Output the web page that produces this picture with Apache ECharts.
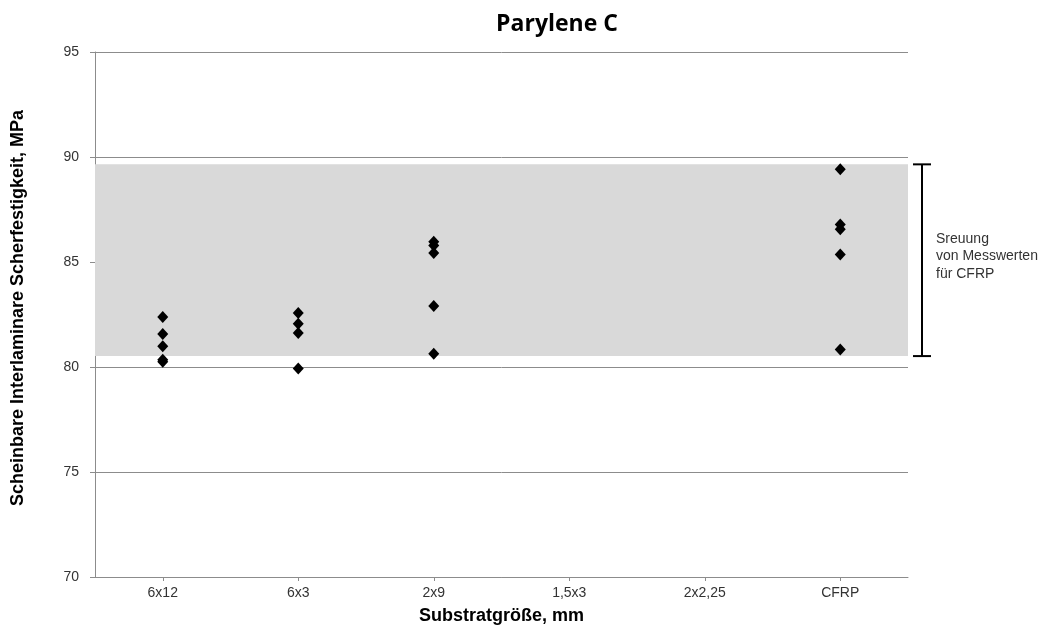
<!DOCTYPE html>
<html>
<head>
<meta charset="utf-8">
<script src="https://cdn.jsdelivr.net/npm/echarts@6/dist/echarts.min.js"></script>
<style>
  html, body { margin: 0; padding: 0; background: #fff; }
  #chart { width: 1051px; height: 630px; }
</style>
</head>
<body>
<div id="chart"></div>
<script>
// Substrate sizes on the x axis
const categories = ['6x12', '6x3', '2x9', '1,5x3', '2x2,25', 'CFRP'];

// Measured apparent interlaminar shear strength (MPa) per substrate size
const values6x12 = [82.38, 81.57, 80.99, 80.34, 80.25];
const values6x3 = [82.57, 82.06, 81.62, 79.93];
const values2x9 = [85.97, 85.78, 85.43, 82.91, 80.63];
const valuesCFRP = [89.42, 86.78, 86.56, 85.36, 80.83];

// Scatter range of the CFRP reference measurements
const cfrpRange = [80.52, 89.65];

// Y axis ticks
const yMin = 70, yMax = 95, yStep = 5;

const points = [];
[[0, values6x12], [1, values6x3], [2, values2x9], [5, valuesCFRP]].forEach(([ci, vals]) => {
  vals.forEach(v => points.push([categories[ci], v]));
});

const font = '"Liberation Sans", Arial, sans-serif';
const chart = echarts.init(document.getElementById('chart'));

chart.setOption({
  backgroundColor: '#ffffff',
  animation: false,
  title: {
    text: 'Parylene C',
    left: 552,
    top: 8,
    textAlign: 'center',
    textStyle: { fontFamily: '"Open Sans", sans-serif', fontWeight: 'bold', fontSize: 23, color: '#000' }
  },
  grid: { left: 95, right: 143, top: 52, bottom: 49, containLabel: false },
  xAxis: {
    type: 'category',
    data: categories,
    boundaryGap: true,
    name: 'Substratgröße, mm',
    nameLocation: 'middle',
    nameGap: 30,
    nameTextStyle: { fontFamily: font, fontWeight: 'bold', fontSize: 18, color: '#000' },
    axisLine: { lineStyle: { color: '#8c8c8c', width: 1 } },
    axisTick: { show: true, alignWithLabel: true, length: 4, lineStyle: { color: '#8c8c8c' } },
    axisLabel: { fontFamily: font, fontSize: 14, color: '#333', margin: 9 },
    splitLine: { show: false }
  },
  yAxis: {
    type: 'value',
    min: yMin,
    max: yMax,
    interval: yStep,
    axisLine: { show: true, lineStyle: { color: '#8c8c8c', width: 1 } },
    axisTick: { show: true, length: 5, lineStyle: { color: '#8c8c8c' } },
    axisLabel: { fontFamily: font, fontSize: 14, color: '#333', margin: 16 },
    splitLine: { show: true, lineStyle: { color: '#8c8c8c', width: 1 } }
  },
  graphic: [{
    type: 'text',
    x: 18,
    y: 308,
    rotation: Math.PI / 2,
    style: {
      text: 'Scheinbare Interlaminare Scherfestigkeit, MPa',
      fontFamily: font,
      fontWeight: 'bold',
      fontSize: 18,
      fill: '#000',
      align: 'center',
      verticalAlign: 'middle'
    }
  }],
  series: [
    {
      // shaded CFRP range across the plot
      type: 'line',
      data: [],
      silent: true,
      markArea: {
        silent: true,
        itemStyle: { color: '#d9d9d9' },
        data: [[{ yAxis: cfrpRange[0] }, { yAxis: cfrpRange[1] }]]
      },
      z: 1
    },
    {
      type: 'scatter',
      data: points,
      symbol: 'diamond',
      symbolSize: [11, 12],
      itemStyle: { color: '#000', opacity: 1 },
      z: 5
    },
    {
      // bracket and caption for the CFRP range, placed right of the plot
      type: 'custom',
      data: [cfrpRange],
      clip: false,
      silent: true,
      renderItem: function (params, api) {
        const top = api.coord([categories[5], api.value(1)]);
        const bot = api.coord([categories[5], api.value(0)]);
        const x = params.coordSys.x + params.coordSys.width + 14;
        const cap = 9;
        const stroke = { stroke: '#000', lineWidth: 2 };
        return {
          type: 'group',
          children: [
            { type: 'line', shape: { x1: x, y1: top[1], x2: x, y2: bot[1] }, style: stroke },
            { type: 'line', shape: { x1: x - cap, y1: top[1], x2: x + cap, y2: top[1] }, style: stroke },
            { type: 'line', shape: { x1: x - cap, y1: bot[1], x2: x + cap, y2: bot[1] }, style: stroke },
            {
              type: 'text',
              x: x + 14,
              y: (top[1] + bot[1]) / 2 - 4,
              style: {
                text: 'Sreuung\nvon Messwerten\nfür CFRP',
                fontFamily: font,
                fontSize: 14,
                lineHeight: 17.5,
                fill: '#333',
                align: 'left',
                verticalAlign: 'middle'
              }
            }
          ]
        };
      },
      z: 3
    }
  ]
});
</script>
</body>
</html>
